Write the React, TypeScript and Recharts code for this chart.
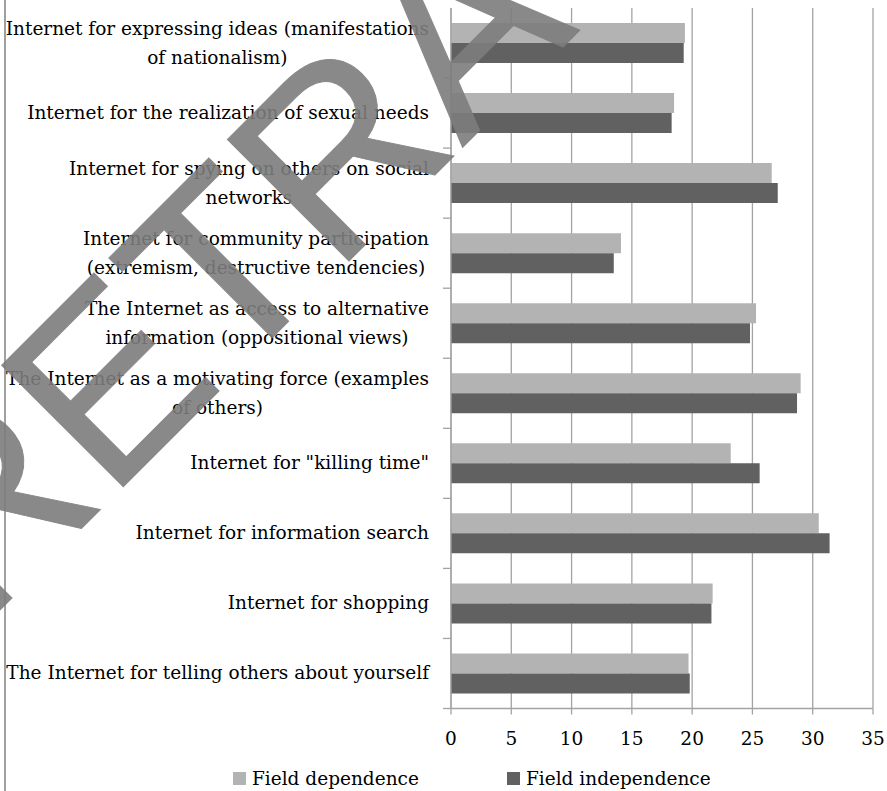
import React from "react";
import { BarChart, Bar, XAxis, YAxis, CartesianGrid, Legend } from "recharts";

// category labels, top to bottom ("\n" = line break as in the original)
const categories = [
  "Internet for expressing ideas (manifestations\nof nationalism)",
  "Internet for the realization of sexual needs",
  "Internet for spying on others on social\nnetworks",
  "Internet for community participation\n(extremism, destructive tendencies)",
  "The Internet as access to alternative\ninformation (oppositional views)",
  "The Internet as a motivating force (examples\nof others)",
  'Internet for "killing time"',
  "Internet for information search",
  "Internet for shopping",
  "The Internet for telling others about yourself",
];

const fieldDependence = [19.4, 18.5, 26.6, 14.1, 25.3, 29.0, 23.2, 30.5, 21.7, 19.7];
const fieldIndependence = [19.3, 18.3, 27.1, 13.5, 24.8, 28.7, 25.6, 31.4, 21.6, 19.8];

const xTicks = [0, 5, 10, 15, 20, 25, 30, 35];

const data = categories.map((name, i) => ({
  name,
  dep: fieldDependence[i],
  indep: fieldIndependence[i],
}));

const FONT = "'DejaVu Serif', serif";
const FS = 18.5;
const LIGHT = "#b3b3b3";
const DARK = "#616161";
const GRID = "#a3a3a3";

const PLOT_TOP = 8;
const PLOT_BOTTOM = 708.5;
const HALF_BAND = (PLOT_BOTTOM - PLOT_TOP) / categories.length / 2;

let measureCtx: CanvasRenderingContext2D | null = null;
const textWidth = (s: string) => {
  if (!measureCtx) {
    measureCtx = document.createElement("canvas").getContext("2d");
  }
  if (!measureCtx) return s.length * 9;
  measureCtx.font = `${FS}px 'DejaVu Serif'`;
  return measureCtx.measureText(s).width;
};

// wrapped labels: lines centred on each other, block right-aligned next to the axis
const CategoryTick = (props: any) => {
  const { x, y, payload } = props;
  const lines: string[] = String(payload.value).split("\n");
  const right = x - 22;
  const blockW = Math.max(...lines.map(textWidth));
  const cx = right - blockW / 2;
  const lh = 29;
  return (
    <g>
      <line x1={x - 8} x2={x} y1={y + HALF_BAND} y2={y + HALF_BAND} stroke={GRID} strokeWidth={1.3} />
      {lines.map((ln, i) => (
        <text
          key={i}
          x={cx}
          y={y + (i - (lines.length - 1) / 2) * lh}
          dy={6}
          textAnchor="middle"
          fontFamily={FONT}
          fontSize={FS}
          fill="#000"
        >
          {ln}
        </text>
      ))}
    </g>
  );
};

const LegendBox = () => (
  <div style={{ position: "relative", height: 40, fontFamily: FONT, fontSize: FS }}>
    {[
      { label: "Field dependence", color: LIGHT, left: 233 },
      { label: "Field independence", color: DARK, left: 507 },
    ].map((it) => (
      <div
        key={it.label}
        style={{ position: "absolute", left: it.left, top: 16, display: "flex", alignItems: "center", whiteSpace: "nowrap", lineHeight: "24px" }}
      >
        <span style={{ display: "inline-block", width: 13, height: 13, background: it.color, marginRight: 6 }} />
        <span>{it.label}</span>
      </div>
    ))}
  </div>
);

export default function App() {
  return (
    <div style={{ position: "absolute", left: 0, top: 0, width: 887, height: 791, overflow: "hidden", background: "#fff" }}>
      <div style={{ position: "absolute", left: 4, top: 0, width: 1.5, height: 791, background: "#a0a0a0" }} />
      <BarChart
        width={887}
        height={791}
        data={data}
        layout="vertical"
        barGap={0}
        barSize={20}
        margin={{ top: PLOT_TOP, right: 14, left: 0, bottom: 0.5 }}
      >
        <CartesianGrid horizontal={false} stroke={GRID} strokeWidth={1.3} />
        <XAxis
          type="number"
          domain={[0, 35]}
          ticks={xTicks}
          interval={0}
          height={42}
          axisLine={{ stroke: GRID, strokeWidth: 1.3 }}
          tickLine={{ stroke: GRID, strokeWidth: 1.3 }}
          tickSize={6}
          tickMargin={17}
          tick={{ fill: "#000", fontFamily: FONT, fontSize: FS }}
        />
        <YAxis
          type="category"
          dataKey="name"
          width={451}
          interval={0}
          tickSize={0}
          tickMargin={0}
          tickLine={false}
          axisLine={{ stroke: GRID, strokeWidth: 1.3 }}
          tick={<CategoryTick />}
        />
        <Legend verticalAlign="bottom" height={40} content={() => <LegendBox />} />
        <Bar dataKey="dep" name="Field dependence" fill={LIGHT} isAnimationActive={false} />
        <Bar dataKey="indep" name="Field independence" fill={DARK} isAnimationActive={false} />
      </BarChart>
      {/* "RETRACTED" watermark laid over the figure */}
      <svg width={887} height={791} style={{ position: "absolute", left: 0, top: 0, pointerEvents: "none" }}>
        <g opacity={0.9}>
          <text
            x={-19}
            y={629}
            transform="rotate(-45 -19 629)"
            fontFamily="'Liberation Sans', Arial, sans-serif"
            fontSize={250}
            fill="#7d7d7d"
            stroke="#7d7d7d"
            strokeWidth={1}
          >
            RETRACTED
          </text>
        </g>
      </svg>
    </div>
  );
}
